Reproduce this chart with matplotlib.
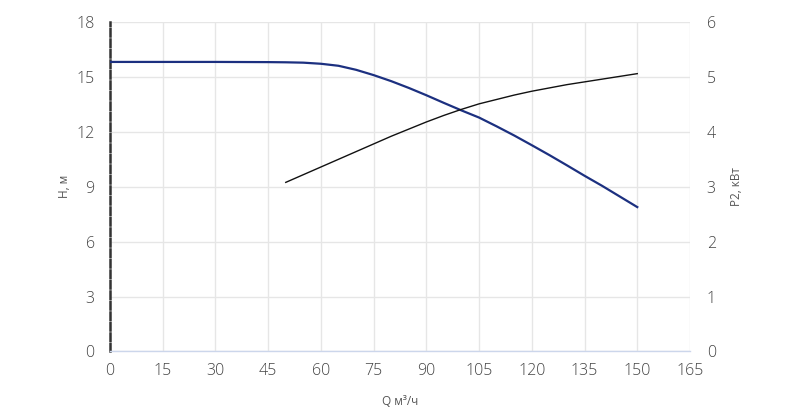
import matplotlib
matplotlib.use("Agg")
import matplotlib.pyplot as plt
from matplotlib.ticker import FixedLocator

plt.rcParams['font.family'] = ['Open Sans', 'DejaVu Sans']

# Head curve H(Q)
q_h = [0, 15, 30, 45, 50, 55, 60, 65, 70, 75, 80, 85, 90, 95, 100, 105, 110, 115, 120,
       125, 130, 135, 140, 145, 150]
h_vals = [15.82, 15.82, 15.82, 15.81, 15.80, 15.78, 15.72, 15.61, 15.39, 15.10, 14.77, 14.40,
          14.00, 13.58, 13.17, 12.78, 12.30, 11.80, 11.27, 10.73, 10.17, 9.60, 9.05, 8.47, 7.89]

# Power curve P2(Q)
q_p = [50, 60, 70, 80, 90, 95, 100, 105, 110, 115, 120, 125, 130, 135, 140, 145, 150]
p_vals = [3.08, 3.36, 3.64, 3.92, 4.18, 4.30, 4.41, 4.51, 4.59, 4.67, 4.74, 4.80, 4.86,
          4.91, 4.96, 5.01, 5.06]

x_ticks = [0, 15, 30, 45, 60, 75, 90, 105, 120, 135, 150, 165]
h_ticks = [0, 3, 6, 9, 12, 15, 18]
p_ticks = [0, 1, 2, 3, 4, 5, 6]

fig = plt.figure(figsize=(8, 4.08), dpi=100)
ax = fig.add_axes([0.1375, 0.1385, 0.725, 0.8075])
ax2 = ax.twinx()

ax.set_xlim(0, 165)
ax.set_ylim(0, 18)
ax2.set_ylim(0, 6)

grid_c = '#e6e6e6'
ax.xaxis.set_major_locator(FixedLocator(x_ticks))
ax.yaxis.set_major_locator(FixedLocator(h_ticks))
ax2.yaxis.set_major_locator(FixedLocator(p_ticks))
ax.grid(True, color=grid_c, linewidth=1)
ax.set_axisbelow(True)
ax2.grid(False)

for s in ['top', 'right']:
    ax.spines[s].set_visible(False)
for s in ax2.spines.values():
    s.set_visible(False)
ax.spines['bottom'].set_color('#ccd6eb')
ax.spines['bottom'].set_linewidth(1)
ax.spines['left'].set_color('#333333')
ax.spines['left'].set_linewidth(1.8)
ax.spines['left'].set_linestyle((0, (3, 1.2)))

tick_c = '#444444'
ax.tick_params(axis='x', length=0, pad=8, labelsize=11.5, labelcolor=tick_c)
ax.tick_params(axis='y', length=0, pad=11, labelsize=11.5, labelcolor=tick_c)
ax2.tick_params(axis='y', length=0, pad=12, labelsize=11.5, labelcolor=tick_c)
for t in ax.get_xticklabels() + ax.get_yticklabels() + ax2.get_yticklabels():
    t.set_fontweight('light')

ax.plot(q_h, h_vals, color='#1c3080', linewidth=1.6, zorder=3)
ax2.plot(q_p, p_vals, color='#111111', linewidth=1.0, zorder=3)

lab_c = '#555555'
ax.set_ylabel('H, м', fontsize=8.5, color=lab_c, labelpad=4)
ax2.set_ylabel('P2, кВт', fontsize=8.5, color=lab_c, labelpad=10)
ax.set_xlabel('Q м³/ч', fontsize=8.5, color=lab_c, labelpad=12)

fig.savefig('out.png', dpi=100, facecolor='white')
